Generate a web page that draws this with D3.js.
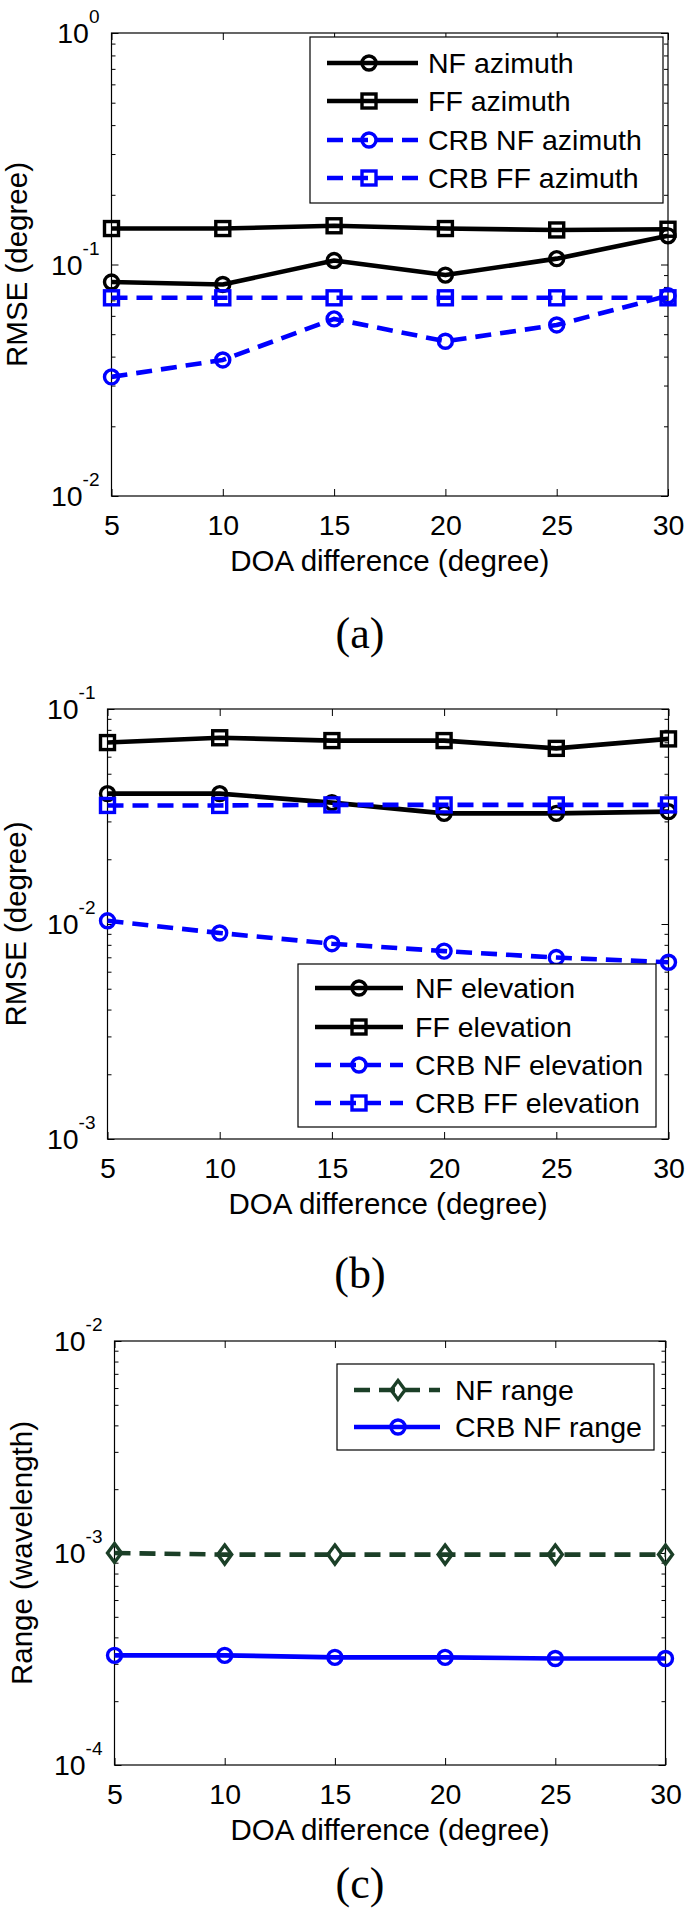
<!DOCTYPE html>
<html>
<head>
<meta charset="utf-8">
<script src="https://cdn.jsdelivr.net/npm/d3@7"></script>
<style>
  html, body { margin: 0; padding: 0; background: #fff; }
  svg { display: block; }
  text { font-family: "Liberation Sans", Arial, Helvetica, sans-serif; fill: #000; }
  text.panel-label { font-family: "Liberation Serif", "Times New Roman", Times, serif; }
</style>
</head>
<body>
<svg id="fig" width="685" height="1912"></svg>
<script>
// ---------------- data ----------------
const doaDiff = [5, 10, 15, 20, 25, 30];
const xTickValues = [5, 10, 15, 20, 25, 30];

// panel (a) azimuth RMSE (degree)
const nfAzimuth     = [0.084, 0.082, 0.104, 0.090, 0.106, 0.133];
const ffAzimuth     = [0.143, 0.143, 0.147, 0.143, 0.141, 0.142];
const crbNfAzimuth  = [0.0327, 0.0387, 0.0582, 0.0466, 0.0548, 0.0733];
const crbFfAzimuth  = [0.0718, 0.0718, 0.0718, 0.0718, 0.0718, 0.0718];
const namesA = ["NF azimuth", "FF azimuth", "CRB NF azimuth", "CRB FF azimuth"];
const decadesA = [-2, -1, 0];

// panel (b) elevation RMSE (degree)
const nfElevation    = [0.0404, 0.0404, 0.0367, 0.0327, 0.0327, 0.0333];
const ffElevation    = [0.0698, 0.0735, 0.0713, 0.0713, 0.0656, 0.0726];
const crbNfElevation = [0.01035, 0.00908, 0.00810, 0.00748, 0.00698, 0.00664];
const crbFfElevation = [0.0356, 0.0356, 0.0358, 0.0358, 0.0358, 0.0358];
const namesB = ["NF elevation", "FF elevation", "CRB NF elevation", "CRB FF elevation"];
const decadesB = [-3, -2, -1];

// panel (c) range (wavelength)
const nfRange    = [0.00100, 0.000983, 0.000983, 0.000983, 0.000983, 0.000983];
const crbNfRange = [0.000329, 0.000329, 0.000322, 0.000322, 0.000318, 0.000318];
const namesC = ["NF range", "CRB NF range"];
const decadesC = [-4, -3, -2];

const xTitle = "DOA difference (degree)";
const yTitles = ["RMSE (degree)", "RMSE (degree)", "Range (wavelength)"];
const panelLabels = ["(a)", "(b)", "(c)"];

// ---------------- styles ----------------
const BLUE = "#0000ff", BLACK = "#000000", DGREEN = "#1b3f27";
const styleBlackCircle = {color: BLACK, dash: null, marker: "circle"};
const styleBlackSquare = {color: BLACK, dash: null, marker: "square"};
const styleBlueCircleDash = {color: BLUE, dash: "16,9", marker: "circle"};
const styleBlueSquareDash = {color: BLUE, dash: "16,9", marker: "square"};
const styleGreenDiamondDash = {color: DGREEN, dash: "16,9", marker: "diamond"};
const styleBlueCircle = {color: BLUE, dash: null, marker: "circle"};

const FS_TICK = 28.5, FS_EXP = 19, FS_LEG = 28.5, FS_TITLE = 29.5, FS_PANEL = 44;

const svg = d3.select("#fig");

function drawMarker(g, type, cx, cy, color) {
  if (type === "circle") {
    g.append("circle").attr("cx", cx).attr("cy", cy).attr("r", 7)
      .attr("fill", "none").attr("stroke", color).attr("stroke-width", 3.4);
  } else if (type === "square") {
    g.append("rect").attr("x", cx - 7).attr("y", cy - 7).attr("width", 14).attr("height", 14)
      .attr("fill", "none").attr("stroke", color).attr("stroke-width", 3.4);
  } else if (type === "diamond") {
    const w = 7, h = 9.5;
    g.append("path").attr("d", `M${cx},${cy - h}L${cx + w},${cy}L${cx},${cy + h}L${cx - w},${cy}Z`)
      .attr("fill", "none").attr("stroke", color).attr("stroke-width", 3.4);
  }
}

function drawPanel(p) {
  const x = d3.scaleLinear().domain([5, 30]).range([p.left, p.right]);
  const y = d3.scaleLog().domain([Math.pow(10, p.decades[0]), Math.pow(10, p.decades[2])])
              .range([p.bottom, p.top]);
  const g = svg.append("g");

  const majors = p.decades.map(d => Math.pow(10, d));
  const minors = [];
  for (let k = 0; k < 2; k++) for (let m = 2; m <= 9; m++) minors.push(m * Math.pow(10, p.decades[k]));

  // frame
  g.append("rect").attr("x", p.left).attr("y", p.top)
    .attr("width", p.right - p.left).attr("height", p.bottom - p.top)
    .attr("fill", "none").attr("stroke", "#000").attr("stroke-width", 1.2);

  const tickStyle = sel => {
    sel.select(".domain").remove();
    sel.selectAll(".tick line").attr("stroke", "#000").attr("stroke-width", 1);
  };

  // bottom axis with labels
  const gb = g.append("g").attr("transform", `translate(0,${p.bottom})`)
    .call(d3.axisBottom(x).tickValues(xTickValues).tickSizeInner(-7).tickSizeOuter(0).tickFormat(d3.format("d")));
  tickStyle(gb);
  gb.selectAll("text").attr("dy", null).attr("y", 39).attr("font-size", FS_TICK).attr("fill", "#000");

  // top axis
  const gt = g.append("g").attr("transform", `translate(0,${p.top})`)
    .call(d3.axisTop(x).tickValues(xTickValues).tickSizeInner(-7).tickSizeOuter(0).tickFormat(""));
  tickStyle(gt);

  // left / right major + minor ticks
  [[p.left, d3.axisLeft], [p.right, d3.axisRight]].forEach(([xpos, ax]) => {
    const gm = g.append("g").attr("transform", `translate(${xpos},0)`)
      .call(ax(y).tickValues(majors).tickSizeInner(-7).tickSizeOuter(0).tickFormat(""));
    tickStyle(gm);
    const gn = g.append("g").attr("transform", `translate(${xpos},0)`)
      .call(ax(y).tickValues(minors).tickSizeInner(-4).tickSizeOuter(0).tickFormat(""));
    tickStyle(gn);
  });

  // y tick labels 10^n
  p.decades.forEach(d => {
    const yy = y(Math.pow(10, d));
    const t = g.append("text").attr("x", p.left - 12).attr("y", yy + 10)
      .attr("text-anchor", "end").attr("font-size", FS_TICK);
    t.append("tspan").text("10");
    t.append("tspan").attr("dy", -20).attr("font-size", FS_EXP).text(String(d));
  });

  // series
  p.series.forEach(s => {
    const line = d3.line().x((d, i) => x(doaDiff[i])).y(d => y(d));
    g.append("path").datum(s.values).attr("d", line)
      .attr("fill", "none").attr("stroke", s.style.color).attr("stroke-width", 4.6)
      .attr("stroke-dasharray", s.style.dash).attr("stroke-linejoin", "round");
    s.values.forEach((v, i) => drawMarker(g, s.style.marker, x(doaDiff[i]), y(v), s.style.color));
  });

  // legend
  const L = p.legend;
  g.append("rect").attr("x", L.x0).attr("y", L.y0).attr("width", L.x1 - L.x0).attr("height", L.y1 - L.y0)
    .attr("fill", "#fff").attr("stroke", "#000").attr("stroke-width", 1.2);
  p.series.forEach((s, i) => {
    const ry = L.rows[i];
    g.append("line").attr("x1", L.lx0).attr("x2", L.lx1).attr("y1", ry).attr("y2", ry)
      .attr("stroke", s.style.color).attr("stroke-width", 4.6).attr("stroke-dasharray", s.style.dash);
    drawMarker(g, s.style.marker, L.mx, ry, s.style.color);
    g.append("text").attr("x", L.tx).attr("y", ry + 10).attr("font-size", FS_LEG).text(s.name);
  });

  // axis titles
  g.append("text").attr("x", (p.left + p.right) / 2).attr("y", p.bottom + 75)
    .attr("text-anchor", "middle").attr("font-size", FS_TITLE).text(xTitle);
  g.append("text").attr("transform", `translate(${p.ylabX},${(p.top + p.bottom) / 2}) rotate(-90)`)
    .attr("text-anchor", "middle").attr("font-size", FS_TITLE).text(p.yTitle);

  // panel label
  g.append("text").attr("class", "panel-label").attr("x", 360).attr("y", p.labelY)
    .attr("text-anchor", "middle").attr("font-size", FS_PANEL).text(p.label);
}

drawPanel({
  left: 111.5, right: 668, top: 33, bottom: 496, decades: decadesA,
  yTitle: yTitles[0], ylabX: 27, label: panelLabels[0], labelY: 648,
  series: [
    {name: namesA[0], values: nfAzimuth, style: styleBlackCircle},
    {name: namesA[1], values: ffAzimuth, style: styleBlackSquare},
    {name: namesA[2], values: crbNfAzimuth, style: styleBlueCircleDash},
    {name: namesA[3], values: crbFfAzimuth, style: styleBlueSquareDash}
  ],
  legend: {x0: 310, y0: 37, x1: 663, y1: 203, rows: [63, 101, 140, 178], lx0: 327, lx1: 418, mx: 369, tx: 428}
});

drawPanel({
  left: 107.5, right: 668.5, top: 709, bottom: 1139, decades: decadesB,
  yTitle: yTitles[1], ylabX: 26, label: panelLabels[1], labelY: 1288,
  series: [
    {name: namesB[0], values: nfElevation, style: styleBlackCircle},
    {name: namesB[1], values: ffElevation, style: styleBlackSquare},
    {name: namesB[2], values: crbNfElevation, style: styleBlueCircleDash},
    {name: namesB[3], values: crbFfElevation, style: styleBlueSquareDash}
  ],
  legend: {x0: 298, y0: 964, x1: 656, y1: 1127, rows: [988, 1027, 1065, 1103], lx0: 315, lx1: 403, mx: 359, tx: 415}
});

drawPanel({
  left: 114.5, right: 665.5, top: 1341, bottom: 1765, decades: decadesC,
  yTitle: yTitles[2], ylabX: 32, label: panelLabels[2], labelY: 1898,
  series: [
    {name: namesC[0], values: nfRange, style: styleGreenDiamondDash},
    {name: namesC[1], values: crbNfRange, style: styleBlueCircle}
  ],
  legend: {x0: 337, y0: 1364, x1: 654, y1: 1450, rows: [1390, 1427], lx0: 354, lx1: 440, mx: 398, tx: 455}
});
</script>
</body>
</html>
